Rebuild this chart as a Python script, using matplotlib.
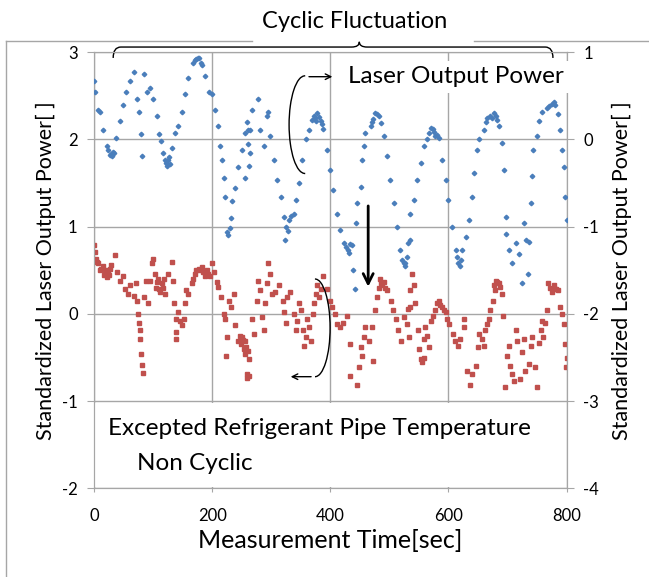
import matplotlib
matplotlib.use('Agg')
import matplotlib.pyplot as plt
from matplotlib.patches import Arc, Rectangle, PathPatch
from matplotlib.path import Path
from matplotlib.lines import Line2D

plt.rcParams['font.family'] = ['Lato', 'DejaVu Sans']
plt.rcParams['axes.unicode_minus'] = False

# laser output power (right axis), time [sec] / standardized value
blue_t = [0, 2, 7, 10, 15, 21, 26, 32, 37, 43, 49, 54, 60, 68, 72, 75, 79, 81, 85, 89,
          95, 100, 106, 109, 113, 119, 125, 131, 137, 142, 148, 153, 159, 167, 176, 181, 187, 194, 200, 205,
          209, 213, 216, 219, 222, 224, 230, 233, 238, 244, 250, 255, 264, 255, 264,
          261, 267, 278, 281, 287, 292, 295, 298, 304, 310, 316, 321, 323, 330, 338, 341, 346, 352, 358, 363,
          372, 376, 384, 388, 394, 400, 405, 411, 417, 423, 429, 436, 438, 441, 443, 445, 451, 454, 457, 459,
          468, 473, 479, 485, 490, 496, 501, 507, 513, 518, 524, 529, 534,
          527, 532, 535, 541, 547, 553, 558, 564, 570, 578, 584, 589, 595, 600, 606, 612, 617, 623, 629, 634,
          640, 644, 648, 652, 660, 666, 674, 680, 686, 691, 694, 697, 697, 703, 708, 714, 719, 725, 728, 731,
          734, 736, 739, 742, 744, 750, 753, 758, 767, 775, 781, 785, 789, 792, 795, 798, 800,
          24, 28, 30, 34, 170, 172, 178, 183, 117, 121, 123, 127, 128, 226, 232, 258, 260, 262,
          325, 328, 333, 369, 374, 378, 381, 386, 426, 431, 433, 471, 476, 482, 521, 526,
          567, 573, 575, 581, 614, 619, 621, 663, 670, 677, 683, 770, 778]
blue_v = [0.67, 0.54, 0.34, 0.31, 0.11, -0.08, -0.18, -0.14, 0.02, 0.21, 0.40, 0.55, 0.67, 0.77, 0.46, 0.32, 0.06, -0.19, 0.75, 0.54,
          0.59, 0.46, 0.27, 0.06, -0.02, -0.23, -0.23, -0.10, 0.07, 0.15, 0.32, 0.52, 0.71, 0.88, 0.93, 0.88, 0.73, 0.55, 0.52, 0.34,
          0.15, -0.08, -0.23, -0.44, -0.66, -1.06, -1.02, -0.71, -0.56, -0.31, -0.12, 0.07, 0.11, -0.44, -0.16,
          0.11, 0.34, 0.46, 0.11, -0.08, 0.27, 0.31, 0.04, -0.23, -0.46, -0.66, -0.89, -1.15, -0.92, -0.85, -0.69, -0.50, -0.23, 0.0, 0.11,
          0.27, 0.21, 0.21, 0.12, -0.12, -0.35, -0.58, -0.85, -1.04, -1.19, -1.27, -1.21, -1.50, -1.71, -0.96, -0.73, -0.54, -0.23, -0.08, 0.07,
          0.15, 0.24, 0.29, 0.19, 0.04, -0.19, -0.46, -0.73, -1.0, -1.27, -1.42, -1.35, -1.15,
          -1.42, -1.19, -0.85, -0.69, -0.46, -0.27, -0.08, 0.0, 0.13, 0.04, 0.02, -0.23, -0.46, -0.69, -1.0, -1.27, -1.42, -1.27, -1.12, -0.92,
          -0.66, -0.39, -0.12, 0.0, 0.11, 0.25, 0.25, 0.27, 0.15, -0.04, -0.35, -0.89, -1.08, -1.27, -1.42, -1.19, -1.31, -1.65, -0.96, -1.15,
          -1.54, -1.17, -0.73, -0.42, -0.12, 0.04, 0.21, 0.31, 0.36, 0.41, 0.40, 0.29, 0.11, -0.12, -0.31, -0.66, -0.92,
          -0.12, -0.17, -0.19, -0.16, 0.91, 0.92, 0.94, 0.85, -0.15, -0.27, -0.30, -0.20, -0.28, -1.10, -0.90, 0.20, -0.05, -0.30,
          -1.0, -1.05, -0.88, 0.22, 0.25, 0.30, 0.26, 0.18, -1.23, -1.30, -1.20, 0.20, 0.30, 0.27, -1.38, -1.45,
          0.08, 0.12, 0.09, 0.05, -1.35, -1.45, -1.38, 0.20, 0.27, 0.30, 0.22, 0.38, 0.43]

# refrigerant pipe temperature (left axis)
red_t = [0, 2, 3, 7, 12, 18, 21, 23, 29, 35, 39, 43, 49, 52, 57, 60, 67, 70, 72, 74,
         76, 78, 78, 79, 81, 82, 84, 87, 91, 95, 97, 100, 103, 106, 110, 114, 120, 125, 131, 134,
         135, 138, 139, 139, 142, 145, 148, 152, 154, 156, 159, 165, 170, 177, 182, 188, 193, 199, 202, 208,
         210, 215, 219, 222, 225, 223, 229, 232, 236, 239, 244, 247, 251, 255, 258, 262, 262,
         256, 261, 259, 267, 270, 275, 278, 281, 284, 287, 289, 292, 295, 298, 301, 306, 313, 319, 321, 324,
         327, 332, 338, 341, 344, 347, 350, 353, 355, 358, 361, 364, 367, 370, 373, 375, 378, 381, 384, 388,
         394, 400, 403, 408, 411, 416, 422, 428, 433, 434, 445, 448, 451, 454, 457, 459, 465, 471, 473, 475,
         479, 485, 490, 496, 502, 506, 511, 514, 520, 525, 530, 534, 533,
         532, 535, 538, 541, 544, 548, 550, 553, 558, 561, 564, 567, 570, 573, 578, 584, 589, 595, 598, 601,
         607, 611, 616, 620, 626, 627, 632, 637, 640, 646, 650, 652, 657, 660, 662, 665, 669, 671, 675, 679,
         683, 687, 690, 693, 696, 699, 702, 705, 708, 711, 714, 716, 722, 725, 728, 730, 736, 739, 742, 747,
         750, 753, 756, 759, 761, 764, 767, 769, 775, 781, 786, 789, 792, 795, 797, 800, 799,
         5, 10, 14, 16, 20, 25, 27, 104, 108, 112, 116, 118, 168, 173, 179, 185, 191, 196,
         249, 252, 253, 257, 482, 484, 488, 492, 556, 559, 581, 586, 592, 677, 681, 685, 772, 778, 783]
red_v = [0.79, 0.71, 0.63, 0.58, 0.52, 0.46, 0.42, 0.48, 0.56, 0.67, 0.48, 0.38, 0.44, 0.29, 0.23, 0.33, 0.21, 0.36, 0.15, 0.0,
         -0.10, -0.19, -0.29, -0.46, -0.59, -0.68, 0.19, 0.38, 0.13, 0.38, 0.58, 0.63, 0.46, 0.37, 0.29, 0.35, 0.23, 0.46, 0.60, 0.38,
         0.13, -0.06, -0.21, -0.29, 0.02, -0.08, -0.13, -0.06, 0.13, 0.27, 0.23, 0.35, 0.46, 0.52, 0.54, 0.44, 0.46, 0.58, 0.48, 0.37,
         0.31, 0.19, 0.0, -0.06, -0.27, -0.48, 0.15, 0.08, 0.23, -0.13, -0.31, -0.25, -0.27, -0.46, -0.73, -0.71, -0.52,
         -0.31, -0.42, -0.69, -0.06, -0.23, 0.15, 0.38, 0.27, -0.04, -0.19, 0.13, 0.35, 0.58, 0.46, 0.23, 0.25, 0.33, 0.15, 0.02, -0.10,
         0.19, 0.25, 0.0, -0.19, -0.08, 0.13, 0.04, -0.19, -0.37, -0.27, -0.06, -0.15, -0.31, 0.0, 0.13, 0.23, 0.33, 0.19, 0.29, 0.44,
         0.29, 0.15, 0.08, 0.0, -0.12, -0.15, -0.10, -0.02, -0.35, -0.71, -0.81, -0.61, -0.38, -0.48, -0.27, -0.15, -0.31, -0.15, -0.54, 0.04,
         0.19, 0.35, 0.37, 0.27, 0.15, 0.04, -0.06, -0.19, -0.31, -0.04, -0.12, 0.08, -0.27,
         0.06, 0.27, 0.46, 0.33, 0.13, -0.19, -0.40, -0.52, -0.29, -0.15, -0.25, -0.38, -0.08, -0.02, 0.04, 0.15, 0.08, 0.02, -0.06, -0.12,
         -0.23, -0.31, -0.37, -0.29, -0.15, -0.06, -0.65, -0.81, -0.69, -0.60, -0.38, -0.23, -0.29, -0.37, -0.19, -0.12, -0.06, 0.04, 0.15, 0.27,
         0.37, 0.31, 0.23, -0.02, -0.84, -0.48, -0.37, -0.60, -0.69, -0.77, -0.19, -0.31, -0.75, -0.44, -0.29, -0.65, -0.58, -0.37, -0.27, -0.61,
         -0.84, -0.33, -0.19, -0.08, -0.27, -0.10, 0.04, 0.35, 0.25, 0.29, 0.27, 0.08, 0.0, -0.12, -0.35, -0.50, -0.61,
         0.60, 0.50, 0.55, 0.45, 0.50, 0.45, 0.52, 0.30, 0.40, 0.25, 0.30, 0.40, 0.40, 0.50, 0.50, 0.48, 0.50, 0.44,
         -0.35, -0.30, -0.40, -0.38, 0.30, 0.40, 0.33, 0.30, -0.55, -0.50, 0.12, 0.10, 0.05, 0.33, 0.38, 0.35, 0.30, 0.33, 0.28]

x_ticks = [0, 200, 400, 600, 800]
left_ticks = [-2, -1, 0, 1, 2, 3]
right_ticks = [-4, -3, -2, -1, 0, 1]

GRAY = '#a6a6a6'
BLUE = '#4a7ebb'
RED = '#c0504d'

fig = plt.figure(figsize=(6.49, 5.77), dpi=100)
ax = fig.add_axes([0.1453, 0.1537, 0.7276, 0.7557])
ax2 = ax.twinx()

ax.set_xlim(0, 800)
ax.set_ylim(-2, 3)
ax2.set_ylim(-4, 1)
ax.set_xticks(x_ticks)
ax.set_yticks(left_ticks)
ax2.set_yticks(right_ticks)

ax.set_axisbelow(True)
ax.grid(True, color=GRAY, lw=1)
for a in (ax, ax2):
    for s in a.spines.values():
        s.set_color(GRAY)
    a.tick_params(colors=GRAY, labelcolor='black', labelsize=12, length=5)
ax.tick_params(axis='x', pad=11, length=3)
ax.tick_params(axis='y', pad=7)
ax2.tick_params(axis='y', pad=7)

# white box behind the lower text
ax.add_patch(Rectangle((1, -1.98), 797, 0.96, facecolor='white', edgecolor='none', zorder=1))

ax.plot(red_t, red_v, ls='none', marker='s', ms=3.0, color=RED, mec=RED, zorder=3)
ax2.plot(blue_t, blue_v, ls='none', marker='D', ms=2.3, color=BLUE, mec=BLUE, zorder=3)

ax.set_xlabel('Measurement Time[sec]', fontsize=18, labelpad=4)
ax.set_ylabel('Standardized Laser Output Power[ ]', fontsize=15.5, labelpad=4)
ax2.set_ylabel('Standardized Laser Output Power[ ]', fontsize=15.5, labelpad=9)

# curly bracket over the cycles
verts = [(32, 2.935), (32, 3.06), (45, 3.06), (436, 3.06), (449, 3.06), (449, 3.12),
         (449, 3.06), (462, 3.06), (764, 3.06), (777, 3.06), (777, 2.935)]
codes = [Path.MOVETO, Path.CURVE3, Path.CURVE3, Path.LINETO, Path.CURVE3, Path.CURVE3,
         Path.CURVE3, Path.CURVE3, Path.LINETO, Path.CURVE3, Path.CURVE3]
ax.add_patch(PathPatch(Path(verts, codes), fill=False, lw=1, color='black', clip_on=False, zorder=5))

# circular arrows
ax2.add_patch(Arc((357, 0.17), 54, 1.12, theta1=60, theta2=300, color='black', lw=1))
ax2.annotate('', xy=(408, 0.72), xytext=(359, 0.72),
             arrowprops=dict(arrowstyle='->', color='black', lw=1))
ax.add_patch(Arc((374, -0.16), 51, 1.12, theta1=-100, theta2=110, color='black', lw=1, zorder=4))
ax.annotate('', xy=(328, -0.72), xytext=(372, -0.72),
            arrowprops=dict(arrowstyle='->', color='black', lw=1), zorder=4)

# big downward arrow
ax2.annotate('', xy=(464, -1.72), xytext=(464, -0.73),
             arrowprops=dict(arrowstyle='->', color='black', lw=2, mutation_scale=18))

ax2.text(430, 0.72, 'Laser Output Power', fontsize=17.5, ha='left', va='center',
         bbox=dict(facecolor='white', edgecolor='none', pad=4), zorder=6)
ax.text(24, -1.31, 'Excepted Refrigerant Pipe Temperature', fontsize=17.5, ha='left', va='center', zorder=6)
ax.text(72, -1.71, 'Non Cyclic', fontsize=17.5, ha='left', va='center', zorder=6)

fig.text(355 / 649, 1 - 21 / 577, 'Cyclic Fluctuation', fontsize=17, ha='center', va='center')

# outer chart frame (cropped)
fy = 1 - 41 / 577
fig.add_artist(Line2D([6 / 649, 6 / 649], [0, fy], color=GRAY, lw=1))
fig.add_artist(Line2D([6 / 649, 252 / 649], [fy, fy], color=GRAY, lw=1))
fig.add_artist(Line2D([474 / 649, 1], [fy, fy], color=GRAY, lw=1))

fig.savefig('out.png', dpi=100)
